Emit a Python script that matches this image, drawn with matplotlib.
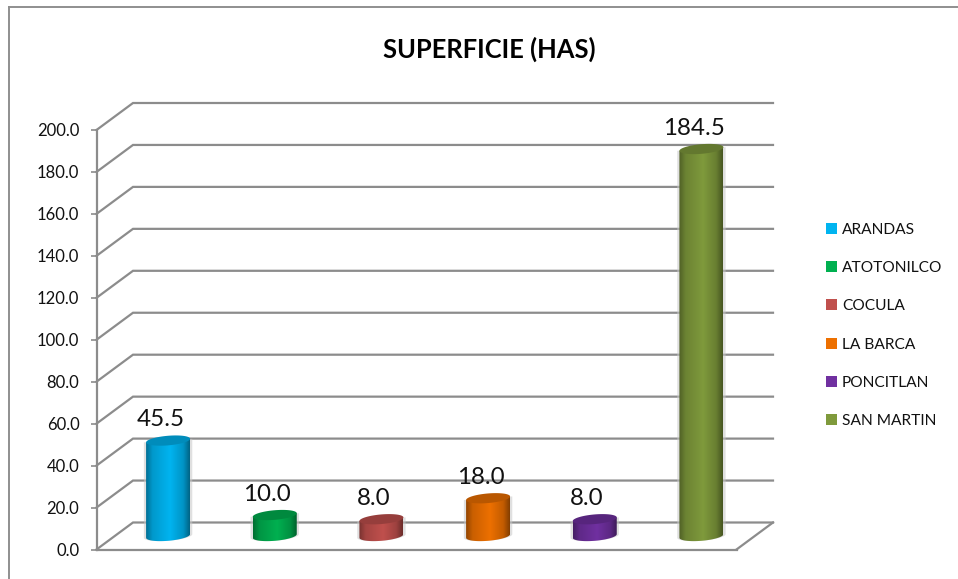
import numpy as np
import matplotlib
matplotlib.use("Agg")
import matplotlib.pyplot as plt
from matplotlib.colors import to_rgb
from matplotlib.lines import Line2D
from matplotlib.patches import Patch, Polygon

plt.rcParams["font.family"] = ["Lato", "DejaVu Sans"]

W, H = 958, 579

municipios = ["ARANDAS", "ATOTONILCO", "COCULA", "LA BARCA", "PONCITLAN", "SAN MARTIN"]
superficie = [45.5, 10.0, 8.0, 18.0, 8.0, 184.5]
colores = ["#00B4F0", "#00B050", "#C0504D", "#ED7000", "#7030A0", "#7F9A3C"]
y_ticks = [0, 20, 40, 60, 80, 100, 120, 140, 160, 180, 200]

GRIS = "#8c8c8c"

# caja 3D en pixeles de la imagen
x0_px, x1_px = 96.5, 773
y0_px, y1_px = 549.5, 103
px_x = 640 / 6        # pixeles por categoria
px_y = 419.5 / 200    # pixeles por unidad
dx = 36.5 / px_x      # fondo de la caja
dy = 27 / px_y

fig = plt.figure(figsize=(W / 100, H / 100), dpi=100)
ax = fig.add_axes([x0_px / W, 1 - y0_px / H, (x1_px - x0_px) / W, (y0_px - y1_px) / H])
ax.patch.set_alpha(0)

# marco del grafico
fig.add_artist(Line2D([8.5 / W, 8.5 / W], [0, 1 - 6.5 / H], color="#8f8f8f", lw=1.4))
fig.add_artist(Line2D([8.5 / W, 1], [1 - 6.5 / H, 1 - 6.5 / H], color="#8f8f8f", lw=1.4))

# rejilla sobre pared izquierda y fondo
for v in y_ticks:
    ax.plot([0, dx, 6 + dx], [v, v + dy, v + dy], color=GRIS, lw=1.6,
            solid_joinstyle="miter", clip_on=False, zorder=1)
ax.plot([6, 6 + dx], [0, dy], color=GRIS, lw=1.6, clip_on=False, zorder=1)


def elipse(cx, base, rx, ry, tilt):
    t = np.linspace(0, 2 * np.pi, 80)
    return np.column_stack([cx + rx * np.cos(t), base + ry * np.sin(t) + tilt * np.cos(t)])


def cilindro(i, valor, color):
    cx = i + 0.5 + dx / 2
    base = 13.5 / px_y
    rx = 22 / px_x
    ry = 4.8 / px_y
    tilt = 1.8 / px_y
    t = np.linspace(np.pi, 2 * np.pi, 40)
    abajo = np.column_stack([cx + rx * np.cos(t), base + ry * np.sin(t) + tilt * np.cos(t)])
    t = np.linspace(0, np.pi, 40)
    arriba = np.column_stack([cx + rx * np.cos(t), base + valor + tilt * np.cos(t)])
    cuerpo = np.vstack([abajo, arriba])

    # sombra clara alrededor
    sombra = cuerpo.copy()
    sombra[:, 0] = cx + (sombra[:, 0] - cx) * 1.1
    ax.add_patch(Polygon(sombra, closed=True, fc="#c8c8c8", ec="none", alpha=0.55, zorder=2))

    rgb = np.array(to_rgb(color))
    pos = np.linspace(0, 1, 256)
    luz = np.interp(pos, [0, 0.15, 0.55, 0.85, 1], [0.62, 0.85, 1, 0.82, 0.55])
    grad = (rgb[None, None, :] * luz[None, :, None]).clip(0, 1)
    img = ax.imshow(grad, extent=[cx - rx, cx + rx, base - ry - tilt, base + valor + ry],
                    aspect="auto", zorder=3, interpolation="bilinear")
    img.set_clip_path(Polygon(cuerpo, closed=True, transform=ax.transData))

    ax.add_patch(Polygon(elipse(cx, base + valor, rx, ry, tilt), closed=True,
                         fc=tuple(rgb * 0.78), ec="none", zorder=4))
    ax.annotate(f"{valor:.1f}", (cx, base + valor), xytext=(-5.5, 15.1),
                textcoords="offset points", ha="center", va="center",
                fontsize=17.4, color="#111111", zorder=5)


for i, (valor, color) in enumerate(zip(superficie, colores)):
    cilindro(i, valor, color)

ax.set_xlim(0, (x1_px - x0_px) / px_x)
ax.set_ylim(0, (y0_px - y1_px) / px_y)
ax.set_xticks([])
ax.set_yticks(y_ticks)
ax.set_yticklabels([f"{v:.1f}" for v in y_ticks], fontsize=12, color="#111111")
ax.tick_params(axis="y", length=4.3, width=1.2, color=GRIS, pad=8)
for lado in ["top", "right"]:
    ax.spines[lado].set_visible(False)
for lado in ["left", "bottom"]:
    ax.spines[lado].set_color(GRIS)
    ax.spines[lado].set_linewidth(1.6)
ax.spines["left"].set_bounds(0, 200)
ax.spines["bottom"].set_bounds(0, 6)

fig.text(489 / W, 1 - 49 / H, "SUPERFICIE (HAS)", ha="center", va="center",
         fontsize=18.4, fontweight="bold", color="#000000")

handles = [Patch(fc=c, ec="none") for c in colores]
fig.legend(handles, municipios, loc="center left", bbox_to_anchor=(826 / W, 1 - 325.5 / H),
           frameon=False, fontsize=11.2, labelcolor="#111111", handlelength=0.7,
           handleheight=0.7, handletextpad=0.32, labelspacing=1.56, borderpad=0, borderaxespad=0)

fig.savefig("out.png", dpi=100)
